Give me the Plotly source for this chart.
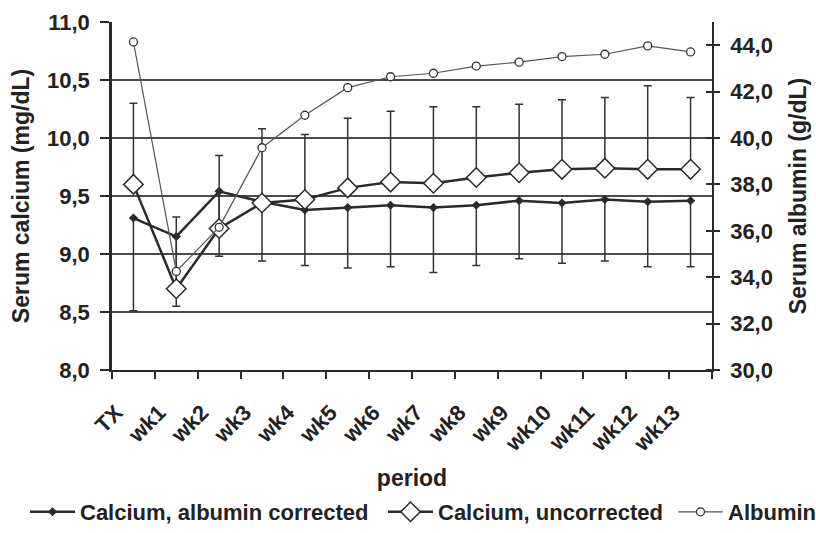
import plotly.graph_objects as go

periods = ["TX", "wk1", "wk2", "wk3", "wk4", "wk5", "wk6", "wk7", "wk8", "wk9", "wk10", "wk11", "wk12", "wk13"]

ca_corrected = [9.31, 9.15, 9.54, 9.45, 9.38, 9.40, 9.42, 9.40, 9.42, 9.46, 9.44, 9.47, 9.45, 9.46]
ca_corrected_err_minus = [0.80, 0.60, 0.56, 0.51, 0.48, 0.52, 0.53, 0.56, 0.52, 0.50, 0.52, 0.53, 0.56, 0.57]

ca_uncorrected = [9.60, 8.70, 9.22, 9.44, 9.47, 9.57, 9.62, 9.61, 9.66, 9.70, 9.73, 9.74, 9.73, 9.73]
ca_uncorrected_err_plus = [0.70, 0.62, 0.63, 0.64, 0.56, 0.60, 0.61, 0.66, 0.61, 0.59, 0.60, 0.61, 0.72, 0.62]

albumin = [44.14, 34.25, 36.15, 39.58, 40.98, 42.17, 42.64, 42.79, 43.10, 43.27, 43.51, 43.61, 43.97, 43.71]

left_ticks = [8.0, 8.5, 9.0, 9.5, 10.0, 10.5, 11.0]
right_ticks = [30, 32, 34, 36, 38, 40, 42, 44]

FAMILY = "Liberation Sans, Arial, sans-serif"
FONT = dict(family=FAMILY, size=22, color="#222222", weight="bold")
TITLE_FONT = dict(family=FAMILY, size=23, color="#222222", weight="bold")
DARK = "#2a2a2a"

fig = go.Figure()

fig.add_trace(go.Scatter(
    x=periods, y=ca_corrected, name="Calcium, albumin corrected",
    mode="lines+markers", legend="legend",
    line=dict(color=DARK, width=2.5),
    marker=dict(symbol="diamond", size=7, color=DARK),
    error_y=dict(type="data", symmetric=False, array=[0] * len(periods),
                 arrayminus=ca_corrected_err_minus, color="#333333", thickness=1.5, width=4),
))

fig.add_trace(go.Scatter(
    x=periods, y=ca_uncorrected, name="Calcium, uncorrected",
    mode="lines+markers", legend="legend2",
    line=dict(color=DARK, width=2.5),
    marker=dict(symbol="diamond", size=15, color="white", line=dict(color=DARK, width=1.5)),
    error_y=dict(type="data", symmetric=False, array=ca_uncorrected_err_plus,
                 arrayminus=[0] * len(periods), color="#333333", thickness=1.5, width=4),
))

fig.add_trace(go.Scatter(
    x=periods, y=albumin, name="Albumin", yaxis="y2",
    mode="lines+markers", legend="legend3",
    line=dict(color="#555555", width=1.2),
    marker=dict(symbol="circle", size=8, color="white", line=dict(color="#333333", width=1.3)),
))

def leg(xpix):
    return dict(orientation="h", xref="container", yref="container",
                x=xpix / 816, xanchor="left", y=-5 / 533, yanchor="bottom",
                font=FONT, itemwidth=45, bgcolor="rgba(0,0,0,0)")

fig.update_layout(
    width=816, height=533,
    margin=dict(l=112, r=104, t=22, b=163, autoexpand=False),
    paper_bgcolor="white", plot_bgcolor="white",
    font=FONT,
    separators=",.",
    showlegend=True,
    legend=leg(25),
    legend2=leg(383),
    legend3=leg(673),
    xaxis=dict(
        type="category", tickangle=-45, tickson="boundaries",
        ticks="outside", ticklen=7, tickwidth=2, tickcolor=DARK,
        ticklabelstandoff=19, ticklabelshift=-17,
        showline=True, linecolor=DARK, linewidth=2,
        showgrid=False, zeroline=False, automargin=False,
        title=dict(text="period", font=TITLE_FONT, standoff=20),
        tickfont=FONT,
        range=[-0.5, 13.5],
    ),
    yaxis=dict(
        range=[8.0, 11.0], tickvals=left_ticks, tickformat=".1f",
        ticks="outside", ticklen=9, tickwidth=2, tickcolor=DARK,
        ticklabelstandoff=6,
        showline=True, linecolor=DARK, linewidth=2.5,
        showgrid=True, gridcolor="#4a4a4a", gridwidth=1.5,
        zeroline=False, automargin=False,
        title=dict(text="Serum calcium (mg/dL)", font=TITLE_FONT, standoff=11),
        tickfont=FONT,
    ),
    yaxis2=dict(
        overlaying="y", side="right",
        range=[30, 45], tickvals=right_ticks, tickformat=".1f",
        ticks="outside", ticklen=6, tickwidth=1.5, tickcolor=DARK,
        ticklabelstandoff=6,
        minor=dict(ticks="inside", ticklen=6, tickwidth=1.5, tickcolor=DARK,
                   tickmode="array", tickvals=[v + 0.0001 for v in right_ticks]),
        showline=True, linecolor=DARK, linewidth=1.5,
        showgrid=False, zeroline=False, automargin=False,
        title=dict(text="Serum albumin (g/dL)", font=TITLE_FONT, standoff=18),
        tickfont=FONT,
    ),
)

fig.write_html("out.html")
